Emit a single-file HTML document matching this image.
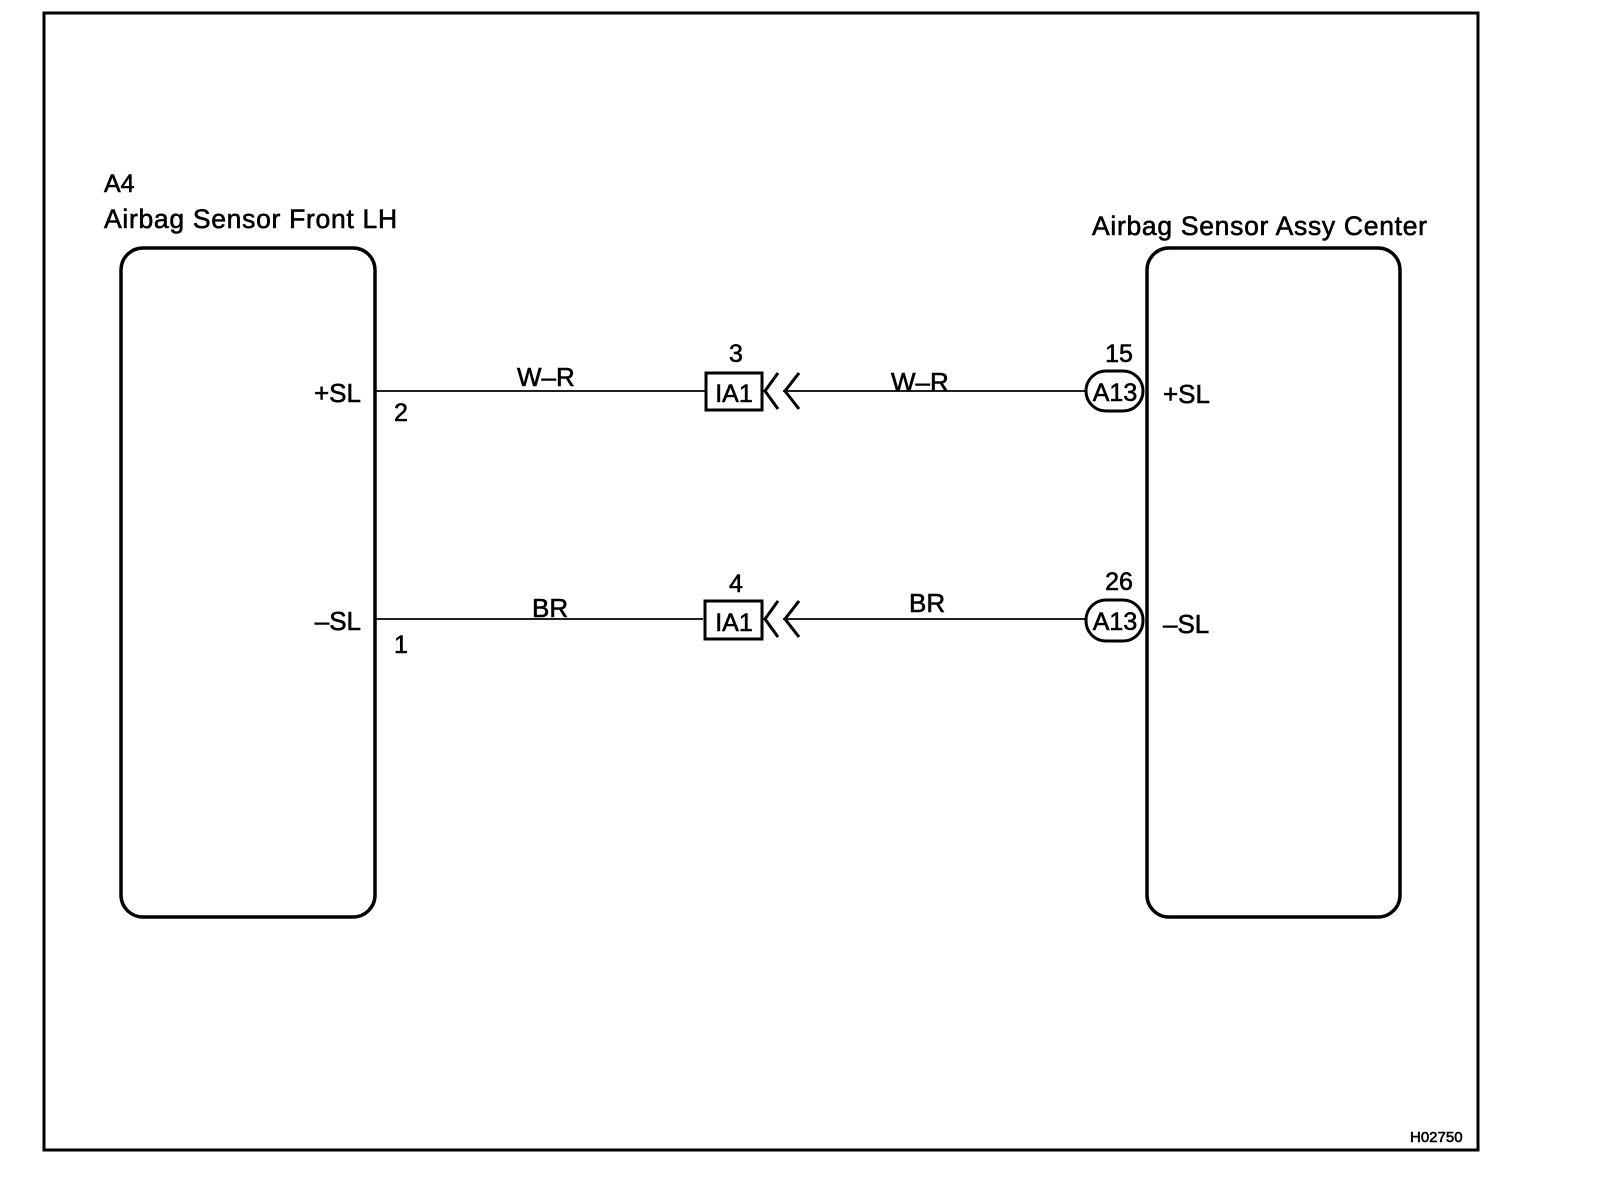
<!DOCTYPE html>
<html><head><meta charset="utf-8"><style>
html,body{margin:0;padding:0;background:#fff;}
svg{display:block;}
text{font-family:"Liberation Sans",Arial,sans-serif;fill:#000;stroke:#000;stroke-width:0.6;}
.t{letter-spacing:0.7px;}
</style></head><body>
<svg width="1600" height="1194" viewBox="0 0 1600 1194" xmlns="http://www.w3.org/2000/svg">
<rect x="44" y="13" width="1434" height="1137" fill="none" stroke="#000" stroke-width="3"/>
<text x="104" y="192" font-size="25">A4</text>
<text class="t" x="104" y="228" font-size="26.5">Airbag Sensor Front LH</text>
<text class="t" x="1092" y="235" font-size="26.5">Airbag Sensor Assy Center</text>
<rect x="121" y="248" width="254" height="669" rx="22" fill="none" stroke="#000" stroke-width="3.5"/>
<rect x="1147" y="248" width="253" height="669" rx="22" fill="none" stroke="#000" stroke-width="3.5"/>
<line x1="375" y1="391" x2="705" y2="391" stroke="#000" stroke-width="1.8"/>
<line x1="783" y1="391" x2="1085" y2="391" stroke="#000" stroke-width="1.8"/>
<line x1="375" y1="619" x2="703" y2="619" stroke="#000" stroke-width="1.8"/>
<line x1="783" y1="619" x2="1085" y2="619" stroke="#000" stroke-width="1.8"/>
<rect x="706" y="373" width="56" height="37" fill="#fff" stroke="#000" stroke-width="3"/>
<text x="734" y="402" font-size="25" text-anchor="middle">IA1</text>
<rect x="705" y="601" width="57" height="38" fill="#fff" stroke="#000" stroke-width="3"/>
<text x="734" y="631" font-size="25" text-anchor="middle">IA1</text>
<polyline points="778,373 765,391 778,409" fill="none" stroke="#000" stroke-width="3"/>
<polyline points="799,373 785,391 799,409" fill="none" stroke="#000" stroke-width="3"/>
<polyline points="778,601 765,619 778,637" fill="none" stroke="#000" stroke-width="3"/>
<polyline points="799,601 785,619 799,637" fill="none" stroke="#000" stroke-width="3"/>
<rect x="1086" y="371" width="57" height="40" rx="20" fill="#fff" stroke="#000" stroke-width="3"/>
<text x="1115" y="401" font-size="25" text-anchor="middle">A13</text>
<rect x="1086" y="600" width="57" height="41" rx="20" fill="#fff" stroke="#000" stroke-width="3"/>
<text x="1115" y="630" font-size="25" text-anchor="middle">A13</text>
<text x="736" y="362" font-size="25" text-anchor="middle">3</text>
<text x="736" y="592" font-size="25" text-anchor="middle">4</text>
<text x="1119" y="362" font-size="25" text-anchor="middle">15</text>
<text x="1119" y="590" font-size="25" text-anchor="middle">26</text>
<text x="517" y="386" font-size="26">W–R</text>
<text x="891" y="391" font-size="26">W–R</text>
<text x="532" y="617" font-size="26">BR</text>
<text x="909" y="612" font-size="26">BR</text>
<text x="361" y="402" font-size="26" text-anchor="end">+SL</text>
<text x="361" y="630" font-size="26" text-anchor="end">–SL</text>
<text x="394" y="421" font-size="25">2</text>
<text x="394" y="653" font-size="25">1</text>
<text x="1163" y="403" font-size="26">+SL</text>
<text x="1163" y="633" font-size="26">–SL</text>
<text x="1410" y="1142" font-size="15">H02750</text>
</svg>
</body></html>
